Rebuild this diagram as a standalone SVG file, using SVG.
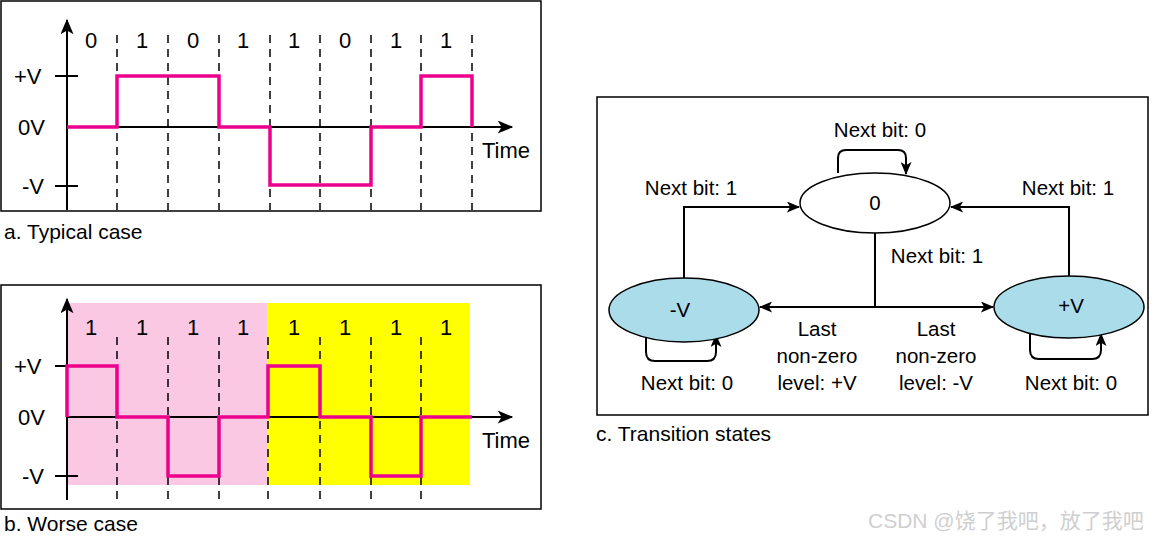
<svg xmlns="http://www.w3.org/2000/svg" width="1159" height="539" viewBox="0 0 1159 539">
<style>
text{font-family:"Liberation Sans",Arial,sans-serif;fill:#000}
.t{font-size:21px}
.v{font-size:22px}
.m{font-size:20.5px;text-anchor:middle}
.box{fill:none;stroke:#000;stroke-width:1.5}
.ax{fill:none;stroke:#000;stroke-width:2}
.ds{fill:none;stroke:#000;stroke-width:1.5;stroke-dasharray:8,6}
.sig{fill:none;stroke:#ec008c;stroke-width:3.5}
.cn{fill:none;stroke:#000;stroke-width:2}
.st{stroke:#000;stroke-width:1.5}
</style>
<defs>
<marker id="ah" viewBox="0 0 12 10" refX="11" refY="5" markerWidth="14" markerHeight="11" markerUnits="userSpaceOnUse" orient="auto">
<path d="M0,0 L12,5 L0,10 L3,5 Z" fill="#000"/>
</marker>
<marker id="ahs" viewBox="0 0 12 10" refX="11" refY="5" markerWidth="17" markerHeight="13" markerUnits="userSpaceOnUse" orient="auto">
<path d="M0,0 L12,5 L0,10 L3,5 Z" fill="#000"/>
</marker>
</defs>
<rect width="1159" height="539" fill="#fff"/>

<g id="panel-a">
<rect class="box" x="1" y="1" width="540" height="210"/>
<path class="ax" d="M67,210 V20" marker-end="url(#ahs)"/>
<path class="ax" d="M67,127 H512" marker-end="url(#ahs)"/>
<path class="ax" d="M55,76 H78 M55,186 H78"/>
<path class="ds" d="M117,35 V210 M168,35 V210 M219,35 V210 M270,35 V210 M320,35 V210 M371,35 V210 M421,35 V210 M472,35 V210"/>
<path class="sig" d="M67,127 H117 V76 H219 V127 H270 V185 H371 V127 H421 V76 H472 V127"/>
<g class="v">
<text x="91" y="48" text-anchor="middle">0</text>
<text x="142" y="48" text-anchor="middle">1</text>
<text x="193" y="48" text-anchor="middle">0</text>
<text x="243" y="48" text-anchor="middle">1</text>
<text x="294" y="48" text-anchor="middle">1</text>
<text x="345" y="48" text-anchor="middle">0</text>
<text x="396" y="48" text-anchor="middle">1</text>
<text x="446" y="48" text-anchor="middle">1</text>
<text x="14" y="84">+V</text>
<text x="18" y="135">0V</text>
<text x="22" y="194">-V</text>
<text x="482" y="158">Time</text>
</g>
<text class="t" x="4" y="239">a. Typical case</text>
</g>

<g id="panel-b">
<rect class="box" x="1" y="285" width="540" height="224"/>
<rect x="67" y="303" width="200" height="182" fill="#fbc8e3"/>
<rect x="267" y="303" width="203" height="182" fill="#ffff00"/>
<path class="ax" d="M67,500 V299" marker-end="url(#ahs)"/>
<path class="ax" d="M67,417 H512" marker-end="url(#ahs)"/>
<path class="ax" d="M55,366 H67 M55,476 H78"/>
<path class="ds" d="M117,337 V500 M168,337 V500 M219,337 V500 M268,337 V500 M320,337 V500 M371,337 V500 M421,337 V500"/>
<path class="sig" d="M67,417 V366 H117 V417 H168 V476 H219 V417 H268 V366 H320 V417 H371 V476 H421 V417 H472"/>
<g class="v">
<text x="91" y="335" text-anchor="middle">1</text>
<text x="142" y="335" text-anchor="middle">1</text>
<text x="193" y="335" text-anchor="middle">1</text>
<text x="243" y="335" text-anchor="middle">1</text>
<text x="294" y="335" text-anchor="middle">1</text>
<text x="345" y="335" text-anchor="middle">1</text>
<text x="396" y="335" text-anchor="middle">1</text>
<text x="446" y="335" text-anchor="middle">1</text>
<text x="14" y="374">+V</text>
<text x="18" y="425">0V</text>
<text x="22" y="484">-V</text>
<text x="482" y="448">Time</text>
</g>
<text class="t" x="4" y="531">b. Worse case</text>
</g>

<g id="panel-c">
<rect class="box" x="597" y="97" width="551" height="318"/>
<text class="t" x="596" y="441">c. Transition states</text>
</g>

<g id="connectors">
<path class="cn" d="M838,173 V158 Q838,150 846,150 H898 Q906,150 906,158 V174" marker-end="url(#ah)"/>
<path class="cn" d="M684,278 V207 H799" marker-end="url(#ah)"/>
<path class="cn" d="M1069,276 V207 H951" marker-end="url(#ah)"/>
<path class="cn" d="M875,233 V307 H760" marker-end="url(#ah)"/>
<path class="cn" d="M875,307 H993" marker-end="url(#ah)"/>
<path class="cn" d="M646,336 V352 Q646,361 655,361 H707 Q716,361 716,352 V335" marker-end="url(#ah)"/>
<path class="cn" d="M1030,334 V350 Q1030,359 1039,359 H1092 Q1101,359 1101,350 V334" marker-end="url(#ah)"/>
</g>

<g id="node-zero">
<ellipse class="st" cx="875" cy="203" rx="75" ry="30" fill="#fff"/>
<text class="m" x="875" y="210">0</text>
</g>
<g id="node-minusV">
<ellipse class="st" cx="684" cy="310" rx="75" ry="32" fill="#aadde9"/>
<text class="m" x="680" y="317">-V</text>
</g>
<g id="node-plusV">
<ellipse class="st" cx="1069" cy="307" rx="75" ry="31" fill="#aadde9"/>
<text class="m" x="1071" y="313">+V</text>
</g>

<g id="labels">
<text class="m" x="880" y="137">Next bit: 0</text>
<text class="m" x="691" y="195">Next bit: 1</text>
<text class="m" x="1068" y="195">Next bit: 1</text>
<text class="m" x="937" y="263">Next bit: 1</text>
<text class="m" x="817" y="336">Last</text>
<text class="m" x="817" y="363">non-zero</text>
<text class="m" x="817" y="390">level: +V</text>
<text class="m" x="936" y="336">Last</text>
<text class="m" x="936" y="363">non-zero</text>
<text class="m" x="936" y="390">level: -V</text>
<text class="m" x="687" y="390">Next bit: 0</text>
<text class="m" x="1071" y="390">Next bit: 0</text>
</g>

<text x="868" y="528" style="font-family:'Liberation Sans','Noto Sans CJK SC',sans-serif;font-size:21px;fill:#cfcfcf">CSDN @饶了我吧，放了我吧</text>
</svg>
